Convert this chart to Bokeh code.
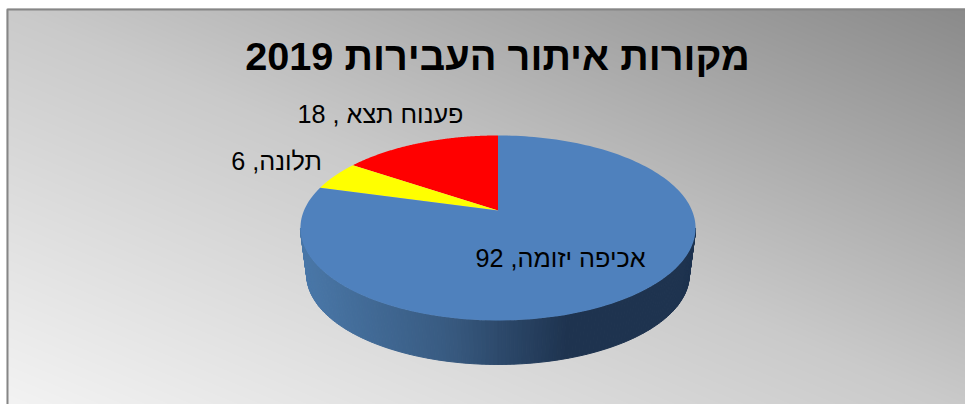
import numpy as np
from bokeh.plotting import figure
from bokeh.models import Range1d
from bokeh.core.properties import value
from bokeh.embed import file_html
from bokeh.resources import INLINE

# --- data ---
title_text = "מקורות איתור העבירות 2019"
categories = ["אכיפה יזומה", "תלונה", "פענוח תצא "]
values = [92, 6, 18]
slice_colors = ["#4f81bd", "#ffff00", "#ff0000"]

# --- layout (pixels inside the figure) ---
REF_W, REF_H = 973, 412
W, H = 965, 404
LEFT, TOP = 6, 8
def sy(y):
    return H - np.asarray(y, dtype=float)

p = figure(width=W, height=H, output_backend="svg", toolbar_location=None,
           x_range=Range1d(0, W), y_range=Range1d(0, H), min_border=0)
p.xaxis.visible = False
p.yaxis.visible = False
p.grid.visible = False
p.outline_line_color = None
p.background_fill_color = "#ffffff"
p.border_fill_color = "#ffffff"

# diagonal grey background
gw, gh = W - LEFT, H - TOP
xx, yy = np.meshgrid((np.arange(gw) + 0.5) / (REF_W - LEFT), (np.arange(gh) + 8.5) / (REF_H - TOP))
t = (xx + yy) / 2
g = np.interp(t, [0, 0.5, 1], [0xf4, 0xca, 0x8a])
img = np.zeros((gh, gw), dtype=np.uint32)
view = img.view(dtype=np.uint8).reshape((gh, gw, 4))
view[..., 0] = view[..., 1] = view[..., 2] = g.astype(np.uint8)
view[..., 3] = 255
p.image_rgba(image=[img], x=LEFT, y=0, dw=gw, dh=gh)

# frame (left and top only, the rest is outside the window)
p.line([LEFT + 1, LEFT + 1, W], sy([H, TOP + 1, TOP + 1]), line_color="#868686", line_width=2)

# projected disc
CX, CY = 497.5, 210.0
B, A, K = 194.0, 89.2, 0.189
def rim(theta, scale=1.0, cx=CX, cy=CY):
    d = 1 + K * np.sin(theta)
    return cx + scale * B * np.cos(theta) / d, cy - scale * A * np.sin(theta) / d

# side wall
WALL_STOPS_X = [300, 450, 570, 695]
WALL_STOPS_C = [(0x4a, 0x78, 0xa9), (0x38, 0x5a, 0x80), (0x1e, 0x33, 0x4f), (0x1e, 0x33, 0x4f)]
th = np.linspace(np.pi + np.arcsin(K), 2 * np.pi - np.arcsin(K), 161)
tx, ty = rim(th)
bx, by = rim(th, scale=0.968, cy=CY + 47.5)
xs, ys, cs = [], [], []
for i in range(len(th) - 1):
    xs.append([tx[i], tx[i + 1], bx[i + 1], bx[i]])
    ys.append(list(sy([ty[i], ty[i + 1], by[i + 1], by[i]])))
    mid = (tx[i] + tx[i + 1]) / 2
    c = [int(np.interp(mid, WALL_STOPS_X, [s[j] for s in WALL_STOPS_C])) for j in range(3)]
    cs.append("#%02x%02x%02x" % tuple(c))
p.patches(xs, ys, fill_color=cs, line_color=cs, line_width=1)

# slices, counter-clockwise from 12 o'clock: red, yellow, blue
total = sum(values)
order = [2, 1, 0]
start = np.pi / 2
for idx in order:
    sweep = 2 * np.pi * values[idx] / total
    a = np.linspace(start, start + sweep, 181)
    x, y = rim(a)
    p.patch(np.r_[CX, x], sy(np.r_[CY, y]), fill_color=slice_colors[idx], line_color=None)
    start += sweep

# texts
FONT = value("Liberation Sans")
RLE, PDF = "\u202b", "\u202c"
p.text([497], sy([55]), text=[RLE + title_text + PDF], text_font=FONT, text_font_size="39.7px",
       text_font_style="bold", text_color="#000000", text_align="center", text_baseline="middle")
label_x = [560, 276, 380]
label_y = [257, 160, 113]
labels = [RLE + f"{c}, {v}" + PDF for c, v in zip(categories, values)]
p.text(label_x, sy(label_y), text=labels, text_font=FONT, text_font_size="25.2px",
       text_color="#000000", text_align="center", text_baseline="middle")

open("out.html", "w").write(file_html(p, INLINE))
